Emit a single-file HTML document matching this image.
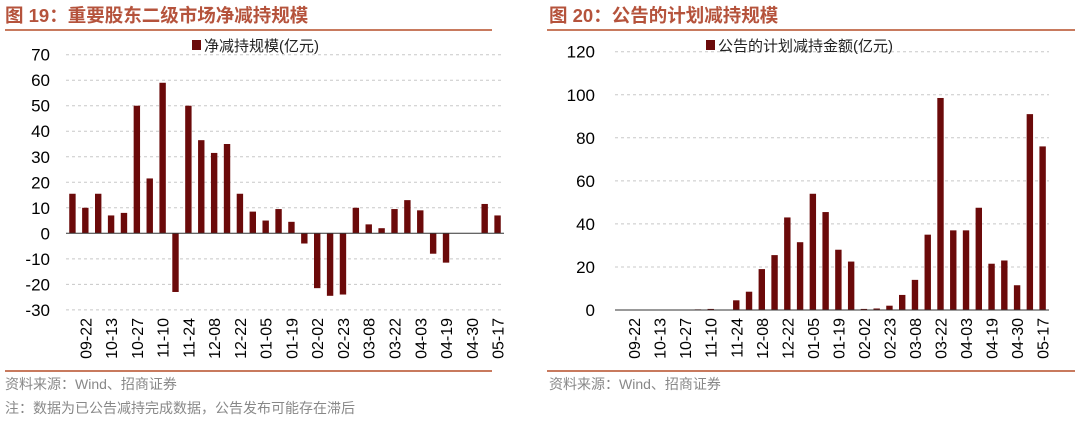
<!DOCTYPE html>
<html><head><meta charset="utf-8">
<style>
body{margin:0;background:#fff;width:1080px;height:424px;overflow:hidden;font-family:"Liberation Sans","Noto Sans CJK SC",sans-serif;}
svg text{font-family:"Liberation Sans","Noto Sans CJK SC",sans-serif;}
</style></head>
<body>
<svg id="svg" width="1080" height="424" xmlns="http://www.w3.org/2000/svg">
<text x="5" y="22" font-size="18.5" font-weight="bold" fill="#b5533c">图 19：重要股东二级市场净减持规模</text>
<line x1="5" y1="30" x2="492" y2="30" stroke="#c87a5e" stroke-width="2"/>
<text x="549" y="22" font-size="18.5" font-weight="bold" fill="#b5533c">图 20：公告的计划减持规模</text>
<line x1="547" y1="30" x2="1075" y2="30" stroke="#c87a5e" stroke-width="2"/>
<line x1="5" y1="371" x2="492" y2="371" stroke="#c87a5e" stroke-width="2"/>
<line x1="547" y1="371" x2="1075" y2="371" stroke="#c87a5e" stroke-width="2"/>
<text x="5" y="389" font-size="14" fill="#888">资料来源：Wind、招商证券</text>
<text x="5" y="413" font-size="14" fill="#888">注：数据为已公告减持完成数据，公告发布可能存在滞后</text>
<text x="549" y="389" font-size="14" fill="#888">资料来源：Wind、招商证券</text>
<g id="left"></g>
<g id="right"></g>
</svg>
<script>
const categories=["","09-22","","10-13","","10-27","","11-10","","11-24","","12-08","","12-22","","01-05","","01-19","","02-02","","02-23","","03-08","","03-22","","04-03","","04-19","","04-30","","05-17"];
const netValues=[15.5,10,15.5,7,8,50,21.5,59,-23,50,36.5,31.5,35,15.5,8.5,5,9.5,4.5,-4,-21.5,-24.5,-24,10,3.5,2,9.5,13,9,-8,-11.5,0,0,11.5,7];
const planValues=[0,0,0,0,0,0,0.3,0.5,0,4.5,8.5,19,25.5,43,31.5,54,45.5,28,22.5,0.5,0.7,2,7,14,35,98.5,37,37,47.5,21.5,23,11.5,91,76];
const leftTicks=[70,60,50,40,30,20,10,0,-10,-20,-30];
const rightTicks=[120,100,80,60,40,20,0];
const NS="http://www.w3.org/2000/svg";
function mk(parent,tag,attrs){const e=document.createElementNS(NS,tag);for(const k in attrs)e.setAttribute(k,attrs[k]);parent.appendChild(e);return e;}
function draw(g,vals,ticks,o){
  const n=vals.length,step=(o.x1-o.x0)/n;
  const y=v=>o.yz-(v-0)*(o.yz-o.yt)/o.tmax;
  const x=i=>o.x0+step*(i+0.5);
  ticks.forEach(t=>{
    if(t!==0){const l=mk(g,'line',{x1:o.x0,x2:o.x1,y1:y(t),y2:y(t),stroke:'#c8c8c8','stroke-dasharray':'3,3'});
    
    }
    const tx=mk(g,'text',{x:o.lx,y:y(t)+6,'font-size':17,'text-anchor':'end',fill:'#000'});tx.textContent=t;
    
    
  });
  vals.forEach((v,i)=>{
    const r=mk(g,'rect',{x:x(i)-3.2,width:6.4,y:Math.min(y(v),y(0)),height:Math.abs(y(v)-y(0)),fill:'#6b0a0a'});
    
    
    if(categories[i]){const t=mk(g,'text',{x:0,y:0,'font-size':16,'text-anchor':'end',fill:'#000',transform:`translate(${x(i)+6},${o.yz+o.lab}) rotate(-90)`});t.textContent=categories[i];
    
    }
  });
  const ax=mk(g,'line',{x1:o.x0,x2:o.x1,y1:y(0),y2:y(0),stroke:'#333','stroke-width':1});
  
  
  const lg=mk(g,'rect',{x:o.legx,y:40,width:9,height:10,fill:'#6b0a0a'});
  
  
  const lt=mk(g,'text',{x:o.legx+12,y:51,'font-size':15,fill:'#222'});lt.textContent=o.legend;
  
  
}
draw(document.getElementById('left'),netValues,leftTicks,{x0:66,x1:504,yz:233.3,yt:54.7,tmax:70,lx:50,lab:(312-233.3)+6,legx:192,legend:'净减持规模(亿元)'});
draw(document.getElementById('right'),planValues,rightTicks,{x0:615,x1:1049,yz:310,yt:51.7,tmax:120,lx:595,lab:8,legx:706,legend:'公告的计划减持金额(亿元)'});
</script>
</body></html>
